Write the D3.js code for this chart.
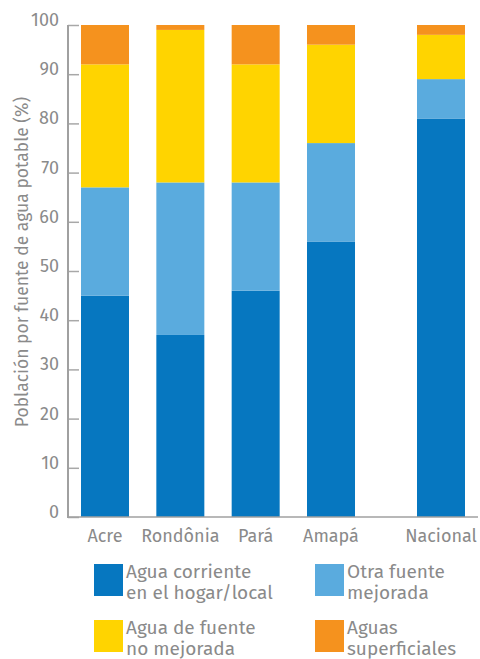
<!DOCTYPE html>
<html><head><meta charset="utf-8">
<script src="https://cdn.jsdelivr.net/npm/d3@7"></script>
<style>body{margin:0;background:#fff}svg{display:block}text{font-family:"Fira Sans","Noto Sans","Open Sans",sans-serif}</style>
</head><body><svg id="c" width="480" height="659"></svg>
<script>
const categories = ["Acre","Rondônia","Pará","Amapá","Nacional"];
const seriesNames = ["Agua corriente en el hogar/local","Otra fuente mejorada","Agua de fuente no mejorada","Aguas superficiales"];
const corriente   = [45, 37, 46, 56, 81];
const otraMejorada = [22, 31, 22, 20, 8];
const noMejorada  = [25, 31, 24, 20, 9];
const superficiales = [8, 1, 8, 4, 2];
const yTicks = [0,10,20,30,40,50,60,70,80,90,100];
const legendLines = [["Agua corriente","en el hogar/local"],["Otra fuente","mejorada"],["Agua de fuente","no mejorada"],["Aguas","superficiales"]];
const colors = ["#0677c0","#5aabde","#ffd400","#f5921e"];
const gray = "#8a8a8a";

const svg = d3.select("#c");
const y = d3.scaleLinear().domain([0,100]).range([517,25]);
// slot index, with an extra gap before "Nacional"
const slot = categories.map((c,i)=> i + (c==="Nacional" ? 0.46 : 0));
const x = d3.scaleLinear().domain([0,4.46]).range([81,417]);
const bw = 48;

const rows = categories.map((c,i)=>({cat:c, pos:slot[i], corriente:corriente[i], otra:otraMejorada[i], no:noMejorada[i], sup:superficiales[i]}));
const stack = d3.stack().keys(["corriente","otra","no","sup"])(rows);

svg.append("g").selectAll("g").data(stack).join("g").attr("fill",(d,i)=>colors[i])
  .selectAll("rect").data(d=>d).join("rect")
  .attr("x",d=>x(d.data.pos)).attr("width",bw)
  .attr("y",d=>y(d[1])).attr("height",d=>y(d[0])-y(d[1]));

// axes
const ax = svg.append("g").attr("transform","translate(68,0)")
  .call(d3.axisRight(y).tickValues(yTicks).tickSize(11).tickFormat(""));
ax.select(".domain").remove();
ax.selectAll(".tick line").attr("stroke","#a8a8a8").attr("stroke-width",1.5);
svg.append("line").attr("x1",68).attr("x2",68).attr("y1",y(100)).attr("y2",y(0)+1).attr("stroke","#a0a0a0").attr("stroke-width",2);
svg.append("line").attr("x1",67).attr("x2",478).attr("y1",y(0)).attr("y2",y(0)).attr("stroke","#a0a0a0").attr("stroke-width",1.6);

svg.append("g").selectAll("text").data(yTicks).join("text")
  .attr("x",59).attr("y",d=>y(d)+1).attr("text-anchor","end")
  .attr("font-size",18).attr("fill",gray).text(d=>d);

svg.append("g").selectAll("text").data(rows).join("text")
  .attr("x",d=>x(d.pos)+bw/2).attr("y",542).attr("text-anchor","middle")
  .attr("font-size",18).attr("fill",gray).text(d=>d.cat);

svg.append("text").attr("transform","translate(28,262) rotate(-90)")
  .attr("text-anchor","middle").attr("font-size",17.5).attr("fill",gray)
  .text("Población por fuente de agua potable (%)");

// legend
const lx = [94,315], ly = [564,620];
const leg = svg.append("g").selectAll("g").data(seriesNames).join("g")
  .attr("transform",(d,i)=>`translate(${lx[i%2]},${ly[Math.floor(i/2)]})`);
leg.append("rect").attr("width",29).attr("height",32).attr("fill",(d,i)=>colors[i]);
leg.each(function(d,i){
  const g = d3.select(this);
  legendLines[i].forEach((t,k)=>{
    g.append("text").attr("x",32).attr("y",14+k*21).attr("font-size",19).attr("fill",gray).text(t);
  });
});
</script></body></html>
